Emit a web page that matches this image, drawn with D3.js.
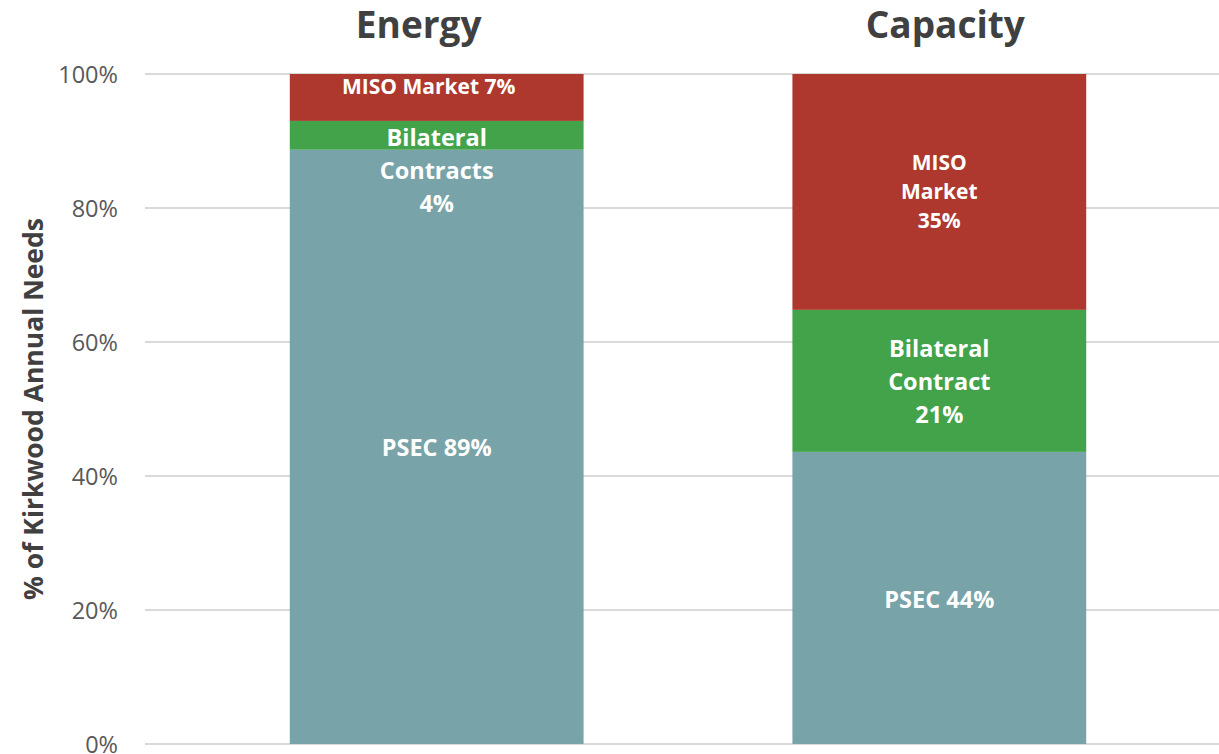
<!DOCTYPE html>
<html><head><meta charset="utf-8">
<script src="https://cdn.jsdelivr.net/npm/d3@7"></script>
<style>body{margin:0;background:#fff;} svg{display:block;font-family:"Open Sans",sans-serif;}</style>
</head><body><svg id="c" width="1219" height="754"></svg>
<script>
const categories = ["Energy", "Capacity"];
const seriesNames = ["PSEC", "Bilateral", "MISO"];
const psec = [88.7, 43.6];
const bilateral = [4.3, 21.2];
const miso = [7.0, 35.2];
const segmentLabels = [
  [["PSEC 89%"], ["Bilateral", "Contracts", "4%"], ["MISO Market 7%"]],
  [["PSEC 44%"], ["Bilateral", "Contract", "21%"], ["MISO", "Market", "35%"]]
];
const yTicks = [0, 20, 40, 60, 80, 100];
const colors = ["#78a3a8", "#43a34a", "#ae382d"];
const labelSize = [23.5, 23.5, 21];
const labelLine = [33, 33, 29];

const svg = d3.select("#c");
const y = d3.scaleLinear().domain([0, 100]).range([744, 74]);
const x = d3.scaleBand().domain(categories).range([139, 1237]).paddingInner(0.4155).paddingOuter(0.3);

// gridlines
svg.append("g").selectAll("line").data(yTicks).join("line")
  .attr("x1", 145).attr("x2", 1219)
  .attr("y1", d => y(d)).attr("y2", d => y(d))
  .attr("stroke", "#d9d9d9").attr("stroke-width", 2);

// axis labels
const yAxis = d3.axisLeft(y).tickValues(yTicks).tickFormat(d => d + "%").tickSize(0).tickPadding(0);
const ag = svg.append("g").attr("transform", "translate(118,0)").call(yAxis);
ag.select(".domain").remove();
ag.selectAll("text").attr("font-size", 23.5).attr("fill", "#595959").attr("font-family", "Open Sans").attr("dy", "0.36em");

svg.append("text").attr("transform", "translate(43,409) rotate(-90)")
  .attr("text-anchor", "middle").attr("font-size", 26.5).attr("font-weight", 700).attr("fill", "#404040")
  .text("% of Kirkwood Annual Needs");

// stack
const rows = categories.map((c, i) => ({cat: c, PSEC: psec[i], Bilateral: bilateral[i], MISO: miso[i]}));
const stacked = d3.stack().keys(seriesNames)(rows);
stacked.forEach((s, si) => {
  svg.append("g").selectAll("rect").data(s).join("rect")
    .attr("x", d => x(d.data.cat)).attr("width", x.bandwidth())
    .attr("y", d => y(d[1])).attr("height", d => y(d[0]) - y(d[1]))
    .attr("fill", colors[si]);
});

// labels
stacked.forEach((s, si) => {
  s.forEach((d, ci) => {
    const lines = segmentLabels[ci][si];
    const shift = ci === 0 ? (si === 1 ? 35.5 : si === 2 ? -11.5 : 1) : (si === 0 ? 2 : (si === 2 ? -0.5 : 0.5));
    const xShift = (ci === 0 && si === 2) ? -8 : 0;
    const cy = (y(d[0]) + y(d[1])) / 2 + shift;
    const lh = labelLine[si];
    const t = svg.append("text").attr("text-anchor", "middle").attr("fill", "#fff")
      .attr("font-size", labelSize[si]).attr("font-weight", 700);
    lines.forEach((ln, k) => {
      t.append("tspan").attr("x", x(d.data.cat) + x.bandwidth() / 2 + xShift)
        .attr("y", cy + (k - (lines.length - 1) / 2) * lh).attr("dy", "0.36em").text(ln);
    });
  });
});

// titles
const titleX = {"Energy": -18, "Capacity": 6};
categories.forEach(c => {
  svg.append("text").attr("x", x(c) + x.bandwidth() / 2 + titleX[c]).attr("y", 38)
    .attr("text-anchor", "middle").attr("font-size", 37).attr("font-weight", 700).attr("fill", "#404040").text(c);
});
</script></body></html>
